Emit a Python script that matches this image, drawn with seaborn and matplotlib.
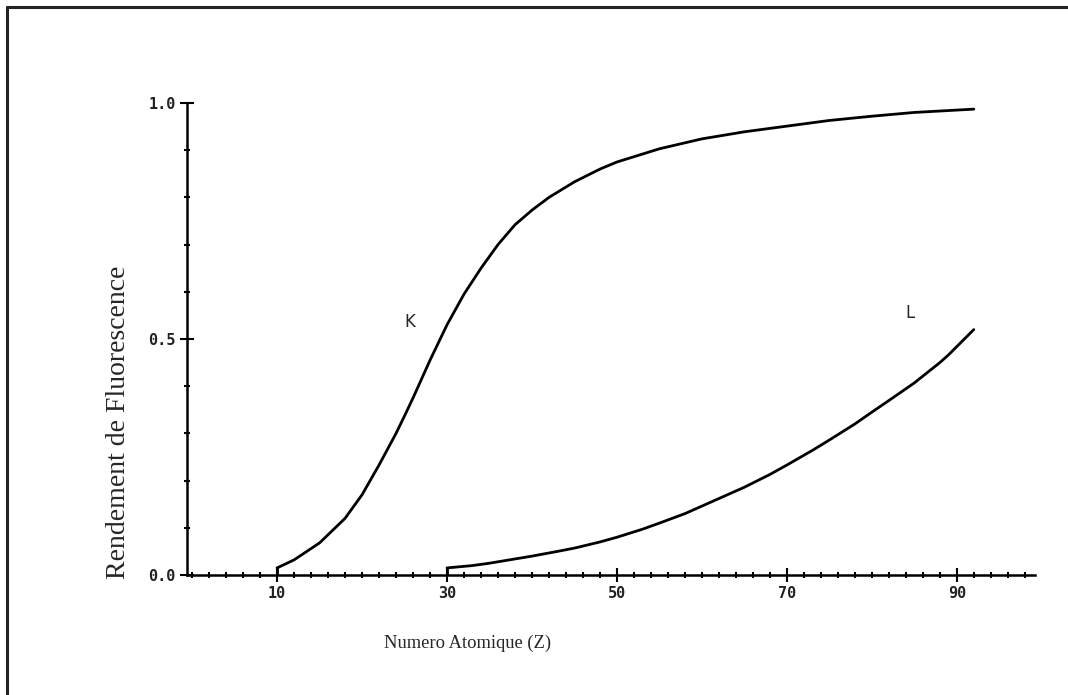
import matplotlib
matplotlib.use("Agg")
import matplotlib.pyplot as plt
from matplotlib.lines import Line2D
from matplotlib.ticker import MultipleLocator, FixedLocator
import seaborn as sns
import pandas as pd

# Fluorescence yield (K and L shells) versus atomic number
z_k = [10, 12, 15, 18, 20, 22, 24, 25, 26, 28, 30, 32, 34, 36, 38, 40, 42, 45, 48, 50,
       55, 60, 65, 70, 75, 80, 85, 92]
w_k = [0.015, 0.032, 0.068, 0.120, 0.170, 0.233, 0.300, 0.337, 0.375, 0.455, 0.530, 0.595,
       0.650, 0.700, 0.742, 0.773, 0.800, 0.833, 0.860, 0.875, 0.903, 0.924, 0.939, 0.951,
       0.963, 0.972, 0.980, 0.987]

z_l = [30, 33, 35, 38, 40, 43, 45, 48, 50, 53, 55, 58, 60, 63, 65, 68, 70, 73, 75, 78,
       80, 83, 85, 88, 89, 92]
w_l = [0.015, 0.020, 0.025, 0.034, 0.040, 0.050, 0.057, 0.070, 0.080, 0.097, 0.110, 0.130,
       0.146, 0.170, 0.186, 0.213, 0.233, 0.264, 0.286, 0.320, 0.345, 0.382, 0.407, 0.450,
       0.466, 0.520]

x_ticks = [10, 30, 50, 70, 90]
y_ticks = [0.0, 0.5, 1.0]
y_tick_labels = ["0.0", "0.5", "1.0"]

sns.set_style("ticks")
plt.rcParams["font.family"] = ["DejaVu Sans Mono", "DejaVu Sans"]

fig = plt.figure(figsize=(10.68, 6.95), dpi=100)
ax = fig.add_axes([187 / 1068, 1 - 575 / 695, (1035 - 187) / 1068, (575 - 103) / 695])

df_k = pd.DataFrame({"Z": z_k, "w": w_k})
df_l = pd.DataFrame({"Z": z_l, "w": w_l})
line_kw = dict(color="black", linewidth=2.0, solid_joinstyle="round", solid_capstyle="round")
sns.lineplot(data=df_k, x="Z", y="w", ax=ax, **line_kw)
sns.lineplot(data=df_l, x="Z", y="w", ax=ax, **line_kw)
# short vertical step where each curve leaves the baseline
ax.plot([z_k[0], z_k[0]], [0, w_k[0]], **line_kw)
ax.plot([z_l[0], z_l[0]], [0, w_l[0]], **line_kw)

ax.set_xlim(-0.6, 99.2)
ax.set_ylim(0, 1.0)

for side in ("top", "right"):
    ax.spines[side].set_visible(False)
for side in ("left", "bottom"):
    ax.spines[side].set_linewidth(1.8)
    ax.spines[side].set_color("black")

ax.xaxis.set_major_locator(FixedLocator(x_ticks))
ax.xaxis.set_minor_locator(MultipleLocator(2))
ax.set_xticklabels([str(t) for t in x_ticks])
ax.yaxis.set_major_locator(FixedLocator(y_ticks))
ax.yaxis.set_minor_locator(MultipleLocator(0.1))
ax.set_yticklabels(y_tick_labels)

ax.tick_params(which="major", direction="inout", length=10, width=1.5, color="black",
               labelsize=11, pad=3)
ax.tick_params(which="minor", direction="inout", length=5, width=1.5, color="black")
for lbl in ax.get_xticklabels() + ax.get_yticklabels():
    lbl.set_fontweight("bold")
    lbl.set_color("#222222")

ax.set_xlabel("")
ax.set_ylabel("")

ax.text(25.6, 0.535, "K", fontsize=12, family="DejaVu Sans", ha="center", va="center")
ax.text(84.5, 0.555, "L", fontsize=12, family="DejaVu Sans", ha="center", va="center")

fig.text(468 / 1068, 1 - 643 / 695, "Numero Atomique (Z)", family="Liberation Serif",
         fontsize=13.3, ha="center", va="center")
fig.text(119 / 1068, 1 - 422 / 695, "Rendement de Fluorescence", family="Liberation Serif",
         fontsize=20, ha="center", va="center", rotation=90)

# frame lines along the left and top edges
fig.add_artist(Line2D([7 / 1068, 7 / 1068], [0, 1 - 7 / 695], transform=fig.transFigure,
                      color="#222222", linewidth=2.2))
fig.add_artist(Line2D([7 / 1068, 1], [1 - 7 / 695, 1 - 7 / 695], transform=fig.transFigure,
                      color="#222222", linewidth=2.2))

fig.savefig("out.png", dpi=100, facecolor="white")
